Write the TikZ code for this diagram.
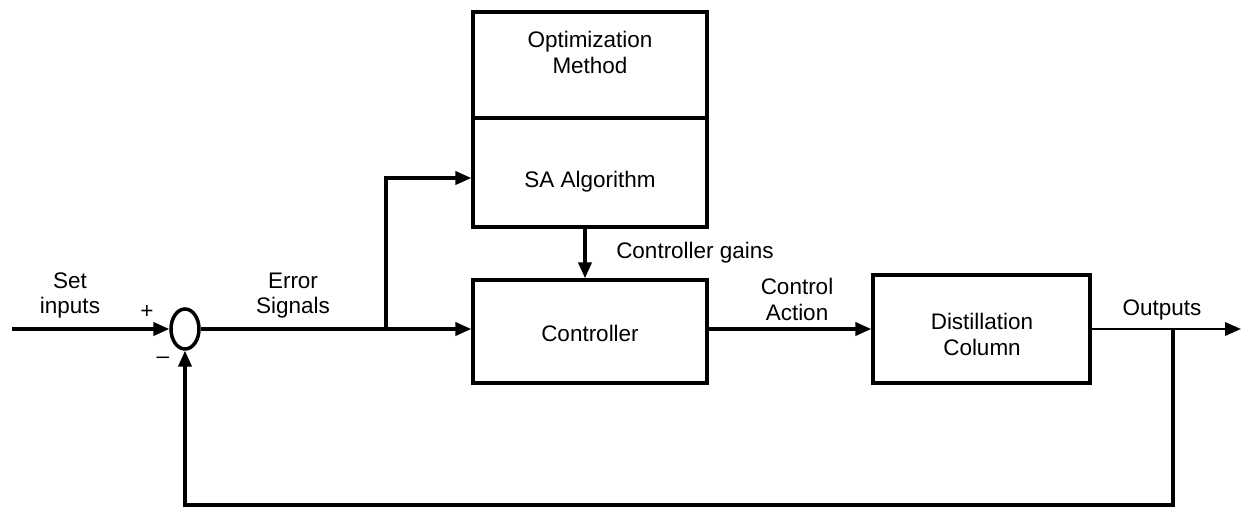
\documentclass[tikz,border=0pt]{standalone}
\usepackage{fontspec}
\setmainfont{Liberation Sans}
\usetikzlibrary{arrows.meta,calc,shapes.geometric}
\begin{document}
\begin{tikzpicture}[x=0.02cm,y=-0.02cm,
  font=\fontsize{12.8}{14.6}\selectfont,
  block/.style={draw,line width=2pt,rectangle,inner sep=0pt},
  label/.style={align=center,inner sep=0pt},
  wire/.style={line width=1.8pt},
  sig/.style={wire,-{Triangle[length=9pt,width=7.5pt]}}]
\useasboundingbox (0,0) rectangle (1241,507);

% blocks
\node[block,minimum width=234*0.02cm,minimum height=106*0.02cm] (opt) at (590,65) {};
\node[block,minimum width=234*0.02cm,minimum height=109*0.02cm] (sa) at (590,172.5) {};
\node[block,minimum width=234*0.02cm,minimum height=103*0.02cm] (ctrl) at (590,331.5) {};
\node[block,minimum width=217*0.02cm,minimum height=108*0.02cm] (dist) at (981.5,329) {};
\node[draw,line width=2pt,ellipse,minimum width=28*0.02cm,minimum height=40*0.02cm,inner sep=0pt] (sum) at (185,329) {};

% block texts
\node[label] (optt) at (590,52.5) {Optimization\\Method};
\node[label] (sat) at (590,182) {SA Algorithm};
\node[label] (ctrlt) at (590,333) {Controller};
\node[label] (distt) at (982,334.5) {Distillation\\Column};

% signal labels
\node[label] (setl) at (70,295.5) {Set\\inputs};
\node[label] (errl) at (293,295.5) {Error\\Signals};
\node[label] (plus) at (147,312) {+};
\node[label] (minus) at (163,360) {\textendash};
\node[label] (gains) at (695,253) {Controller gains};
\node[label] (actl) at (797,299.5) {Control\\Action};
\node[label] (outl) at (1162,310) {Outputs};

% wiring points
\coordinate (in) at (12,329);
\coordinate (br) at (386,329);
\coordinate (out) at (1241,329);
\coordinate (tap) at (1173,329);
\coordinate (fb) at (1173,505);

% connectors
\draw[sig] (in) -- (sum.west);
\draw[sig] (sum.east) -- (ctrl.west |- sum.east);
\draw[sig] (br) |- ($(sa.west)+(0,5.5)$);
\draw[sig] ($(sa.south)+(-5,0)$) -- ($(ctrl.north)+(-5,0)$);
\draw[sig] (ctrl.east |- dist.west) -- (dist.west);
\draw[sig,line width=1.3pt] (dist.east) -- (out);
\draw[sig] (tap) -- (fb) -| (sum.south);
\end{tikzpicture}
\end{document}
